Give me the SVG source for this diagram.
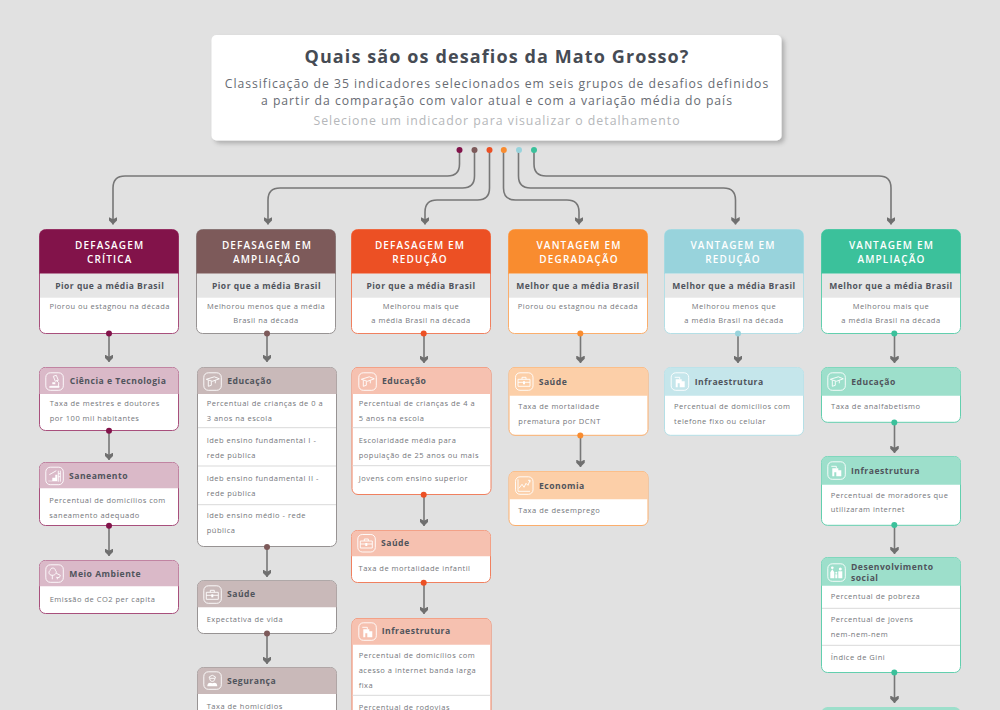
<svg xmlns="http://www.w3.org/2000/svg" width="1000" height="710" viewBox="0 0 1000 710">
<style>
text{font-family:"Open Sans","Noto Sans","Liberation Sans",sans-serif}
.bg{fill:#e1e1e1}
.card{fill:#fff;stroke-width:1}
.title{font-size:18px;font-weight:700;fill:#464b54;letter-spacing:1.11px;text-anchor:middle}
.sub{font-size:12.2px;fill:#686c73;letter-spacing:.98px;text-anchor:middle}
.hint{font-size:12.3px;fill:#b5b7ba;letter-spacing:1px;text-anchor:middle}
.mh{font-size:10px;font-weight:600;fill:#fff;letter-spacing:1.15px;text-anchor:middle}
.band{fill:#e6e6e6}
.bt{font-size:8.5px;font-weight:700;fill:#50545c;letter-spacing:.5px;text-anchor:middle}
.d{font-size:7.5px;fill:#74767b;letter-spacing:.5px;text-anchor:middle}
.sh{font-size:8.6px;font-weight:700;fill:#50545c;letter-spacing:.5px}
.t{font-size:7.5px;fill:#74767b;letter-spacing:.5px}
.sep{stroke:#d9d9d9;stroke-width:1;fill:none}
.line{fill:none;stroke:#777;stroke-width:1.6;marker-end:url(#arrow)}
.ic{fill:none;stroke:#fff;stroke-width:.9}
.if{fill:#fff;stroke:none}
.c1 .card{stroke:#a84f7c}.c1 .h{fill:#82134a}.c1 .s{fill:#dab9c8}
.c2 .card{stroke:#979393}.c2 .h{fill:#7d5a5a}.c2 .s{fill:#c9b9b9}
.c3 .card{stroke:#f0805f}.c3 .h{fill:#ec5024}.c3 .s{fill:#f6c1b0}
.c4 .card{stroke:#fbae6c}.c4 .h{fill:#f98c2f}.c4 .s{fill:#fccfa8}
.c5 .card{stroke:#b4dfe6}.c5 .h{fill:#98d3dc}.c5 .s{fill:#c5e6eb}
.c6 .card{stroke:#62cfae}.c6 .h{fill:#3bc19b}.c6 .s{fill:#9ddfcb}
</style>
<defs>
<filter id="shadow" x="-5%" y="-10%" width="110%" height="125%"><feDropShadow dx="3" dy="3" stdDeviation="2" flood-color="#000" flood-opacity=".22"/></filter>
<marker id="arrow" viewBox="0 0 8 8" markerUnits="userSpaceOnUse" markerWidth="8.5" markerHeight="8.5" refX="7" refY="4" orient="auto"><path d="M0,0L3,0L7,4L3,8L0,8L2,4Z" fill="#6f6f6f"/></marker>
<g id="frame"><rect x=".5" y=".5" width="17.5" height="17.5" rx="4.5" class="ic"/></g>
<g id="i-cap"><use href="#frame"/><path class="ic" d="M3,7L11,4.5L16,6.5L9,9ZM5,8V14L8,13V9M12,8V11"/></g>
<g id="i-micro"><use href="#frame"/><path class="ic" d="M8,4L11,3L13,8L10,9ZM11,8Q15,10 13,14M5,14H14"/><path class="if" d="M4,14H14V15.5H4ZM7,10H10V12H7Z"/></g>
<g id="i-stairs"><use href="#frame"/><path class="if" d="M3,14H7V11H10V8H12V14.5H3Z"/><path class="ic" d="M13,4V15M15,4V15M13,7H15M13,10H15M4,8L11,4"/></g>
<g id="i-tree"><use href="#frame"/><path class="ic" d="M7,11C3,11 3,7 5,6C5,3 10,3 10,6C12,7 11,11 7,11ZM7,11V15M11,9L15,11C15,13 13,14 11,13M12,13V15"/></g>
<g id="i-brief"><use href="#frame"/><path class="ic" d="M3,7H15V14H3ZM7,7V5H11V7M3,10H15"/><path class="if" d="M8,9H10V12H8Z"/></g>
<g id="i-police"><use href="#frame"/><path class="ic" d="M6,5.5L9,4L12,5.5V7H6ZM6.5,7.5C6.5,11 11.5,11 11.5,7.5"/><path class="if" d="M4,15C4,11 7,11 9,12C11,11 14,11 14,15Z"/></g>
<g id="i-build"><use href="#frame"/><path class="if" d="M5,7H11V15H9V11H7V15H5ZM11,9H14V15H11Z"/><path class="ic" d="M4,5H9V7"/></g>
<g id="i-chart"><use href="#frame"/><path class="ic" d="M3,3V15H15M4,12L7,8L9,11L11,7L13,9L15,4M13,4H15V6"/></g>
<g id="i-family"><use href="#frame"/><path class="if" d="M3,9L5,6L7,9V15H3ZM8,11H10V15H8ZM11,8H15V15H11Z"/><circle class="if" cx="5" cy="4.5" r="1.3"/><circle class="if" cx="13" cy="5.8" r="1.5"/><circle class="if" cx="9" cy="9.5" r="1"/></g>
</defs>
<rect class="bg" width="1000" height="710"/>

<g id="cabecalho">
<rect x="211.5" y="35" width="570" height="105.5" rx="5" fill="#fff" filter="url(#shadow)"/>
<text x="497" y="62.5" class="title">Quais são os desafios da Mato Grosso?</text>
<text x="497" y="88.3" class="sub">Classificação de 35 indicadores selecionados em seis grupos de desafios definidos</text>
<text x="497" y="105" class="sub">a partir da comparação com valor atual e com a variação média do país</text>
<text x="497" y="125" class="hint">Selecione um indicador para visualizar o detalhamento</text>
</g>

<g id="conectores">
<path class="line" d="M459.5,150V164Q459.5,176 447.5,176H125Q113,176 113,188V224.5"/>
<path class="line" d="M474.5,150V176Q474.5,188 462.5,188H280Q268,188 268,200V224.5"/>
<path class="line" d="M489.5,150V188Q489.5,200 477.5,200H437Q425,200 425,212V224.5"/>
<path class="line" d="M503.5,150V188Q503.5,200 515.5,200H567Q579,200 579,212V224.5"/>
<path class="line" d="M518.5,150V176Q518.5,188 530.5,188H723.5Q735.5,188 735.5,200V224.5"/>
<path class="line" d="M534,150V164Q534,176 546,176H879Q891,176 891,188V224.5"/>
<path class="line" d="M109,334V362"/><path class="line" d="M109,431V460"/><path class="line" d="M109,526V556"/>
<path class="line" d="M267,334V362"/><path class="line" d="M267,547V577"/><path class="line" d="M267,634V664"/>
<path class="line" d="M424,334V363"/><path class="line" d="M424,495V526"/><path class="line" d="M424,583V614"/>
<path class="line" d="M580.5,334V363"/><path class="line" d="M580.5,436V467"/>
<path class="line" d="M738,334V363"/>
<path class="line" d="M894.5,334V363"/><path class="line" d="M894.5,423V453"/><path class="line" d="M894.5,525V554"/><path class="line" d="M894.5,672.5V703"/>
</g>

<g class="c1">
<g id="n1"><rect class="card" x="39.5" y="229.5" width="139" height="104" rx="6"/><path class="h" d="M39.5,273.7V235.5a6,6 0 0 1 6,-6H172.5a6,6 0 0 1 6,6V273.7Z"/><rect class="band" x="40" y="273.7" width="138" height="24"/>
<text x="109.7" y="248.5" class="mh">DEFASAGEM</text><text x="109.7" y="263" class="mh">CRÍTICA</text><text x="109.7" y="289" class="bt">Pior que a média Brasil</text><text x="109.7" y="308.5" class="d">Piorou ou estagnou na década</text></g>
<g id="n1a"><rect class="card" x="39.5" y="367.5" width="139" height="63" rx="6"/><path class="s" d="M39.5,394V373.5a6,6 0 0 1 6,-6H172.5a6,6 0 0 1 6,6V394Z"/><use href="#i-micro" x="45.3" y="372.3"/><text x="69.7" y="384.3" class="sh">Ciência e Tecnologia</text><text x="49.7" y="406" class="t">Taxa de mestres e doutores</text><text x="49.7" y="420.7" class="t">por 100 mil habitantes</text></g>
<g id="n1b"><rect class="card" x="39.5" y="462.5" width="139" height="63" rx="6"/><path class="s" d="M39.5,488.3V468.5a6,6 0 0 1 6,-6H172.5a6,6 0 0 1 6,6V488.3Z"/><use href="#i-stairs" x="45.3" y="466.7"/><text x="69" y="478.7" class="sh">Saneamento</text><text x="49.3" y="503.3" class="t">Percentual de domicílios com</text><text x="49.3" y="518" class="t">saneamento adequado</text></g>
<g id="n1c"><rect class="card" x="39.5" y="560.5" width="139" height="53" rx="6"/><path class="s" d="M39.5,586.3V566.5a6,6 0 0 1 6,-6H172.5a6,6 0 0 1 6,6V586.3Z"/><use href="#i-tree" x="45.3" y="564.3"/><text x="69.3" y="576.7" class="sh">Meio Ambiente</text><text x="49.7" y="601.7" class="t">Emissão de CO2 per capita</text></g>
</g>

<g class="c2">
<g id="n2"><rect class="card" x="196.5" y="229.5" width="139" height="104" rx="6"/><path class="h" d="M196.5,273.7V235.5a6,6 0 0 1 6,-6H329.5a6,6 0 0 1 6,6V273.7Z"/><rect class="band" x="197" y="273.7" width="138" height="24"/>
<text x="267" y="248.5" class="mh">DEFASAGEM EM</text><text x="267" y="263" class="mh">AMPLIAÇÃO</text><text x="266.5" y="289" class="bt">Pior que a média Brasil</text><text x="266" y="308.5" class="d">Melhorou menos que  a média</text><text x="266" y="323" class="d">Brasil na década</text></g>
<g id="n2a"><rect class="card" x="197.5" y="367.5" width="139" height="179" rx="6"/><path class="s" d="M197.5,394V373.5a6,6 0 0 1 6,-6H330.5a6,6 0 0 1 6,6V394Z"/><use href="#i-cap" x="203.3" y="372.3"/><text x="227.3" y="383.7" class="sh">Educação</text>
<text x="206.7" y="406" class="t">Percentual de crianças de 0 a</text><text x="206.7" y="420.7" class="t">3 anos na escola</text><path class="sep" d="M198,427.7H336"/>
<text x="206.7" y="443.3" class="t">Ideb ensino fundamental I -</text><text x="206.7" y="458" class="t">rede pública</text><path class="sep" d="M198,466H336"/>
<text x="206.7" y="481" class="t">Ideb ensino fundamental II -</text><text x="206.7" y="495.5" class="t">rede pública</text><path class="sep" d="M198,504.7H336"/>
<text x="206.7" y="518.3" class="t">Ideb ensino médio - rede</text><text x="206.7" y="533" class="t">pública</text></g>
<g id="n2b"><rect class="card" x="197.5" y="580.7" width="139" height="52.8" rx="6"/><path class="s" d="M197.5,607.3V586.7a6,6 0 0 1 6,-6H330.5a6,6 0 0 1 6,6V607.3Z"/><use href="#i-brief" x="203.3" y="585.3"/><text x="227" y="596.7" class="sh">Saúde</text><text x="206.7" y="622" class="t">Expectativa de vida</text></g>
<g id="n2c"><rect class="card" x="197.5" y="667.5" width="139" height="60" rx="6"/><path class="s" d="M197.5,694V673.5a6,6 0 0 1 6,-6H330.5a6,6 0 0 1 6,6V694Z"/><use href="#i-police" x="203.3" y="671.3"/><text x="227" y="684" class="sh">Segurança</text><text x="206.7" y="708.7" class="t">Taxa de homicídios</text></g>
</g>

<g class="c3">
<g id="n3"><rect class="card" x="351.5" y="229.5" width="139" height="104" rx="6"/><path class="h" d="M351.5,273.7V235.5a6,6 0 0 1 6,-6H484.5a6,6 0 0 1 6,6V273.7Z"/><rect class="band" x="352" y="273.7" width="138" height="24"/>
<text x="420" y="248.5" class="mh">DEFASAGEM EM</text><text x="420" y="263" class="mh">REDUÇÃO</text><text x="421" y="289" class="bt">Pior que a média Brasil</text><text x="421" y="308.5" class="d">Melhorou mais que</text><text x="421" y="323" class="d">a média Brasil na década</text></g>
<g id="n3a"><rect class="card" x="352" y="367.5" width="139" height="127" rx="6"/><path class="s" d="M352,394V373.5a6,6 0 0 1 6,-6H485a6,6 0 0 1 6,6V394Z"/><use href="#i-cap" x="358.3" y="372.3"/><text x="382" y="384.3" class="sh">Educação</text>
<text x="358.7" y="406" class="t">Percentual de crianças de 4 a</text><text x="358.7" y="420.7" class="t">5 anos na escola</text><path class="sep" d="M352.5,427.7H490.5"/>
<text x="358.7" y="443.3" class="t">Escolaridade média para</text><text x="358.7" y="458" class="t">população de 25 anos ou mais</text><path class="sep" d="M352.5,465.7H490.5"/>
<text x="358.7" y="480.7" class="t">Jovens com ensino superior</text></g>
<g id="n3b"><rect class="card" x="351.5" y="530.5" width="139" height="52" rx="6"/><path class="s" d="M351.5,556.3V536.5a6,6 0 0 1 6,-6H484.5a6,6 0 0 1 6,6V556.3Z"/><use href="#i-brief" x="357.3" y="534"/><text x="381" y="546" class="sh">Saúde</text><text x="358.5" y="571.3" class="t">Taxa de mortalidade infantil</text></g>
<g id="n3c"><rect class="card" x="352" y="618.5" width="139" height="110" rx="6"/><path class="s" d="M352,644.7V624.5a6,6 0 0 1 6,-6H485a6,6 0 0 1 6,6V644.7Z"/><use href="#i-build" x="358.3" y="622.3"/><text x="381.7" y="634.3" class="sh">Infraestrutura</text>
<text x="358.7" y="658.3" class="t">Percentual de domicílios com</text><text x="358.7" y="673" class="t">acesso a internet banda larga</text><text x="358.7" y="687.7" class="t">fixa</text><path class="sep" d="M352.5,695.3H490.5"/><text x="358.7" y="709.7" class="t">Percentual de rodovias</text></g>
</g>

<g class="c4">
<g id="n4"><rect class="card" x="508.5" y="229.5" width="139" height="104" rx="6"/><path class="h" d="M508.5,273.7V235.5a6,6 0 0 1 6,-6H641.5a6,6 0 0 1 6,6V273.7Z"/><rect class="band" x="509" y="273.7" width="138" height="24"/>
<text x="579" y="248.5" class="mh">VANTAGEM EM</text><text x="579" y="263" class="mh">DEGRADAÇÃO</text><text x="578" y="289" class="bt">Melhor que a média Brasil</text><text x="578" y="308.5" class="d">Piorou ou estagnou na década</text></g>
<g id="n4a"><rect class="card" x="509" y="367.5" width="139" height="67.8" rx="6"/><path class="s" d="M509,395.7V373.5a6,6 0 0 1 6,-6H642a6,6 0 0 1 6,6V395.7Z"/><use href="#i-brief" x="515" y="372.3"/><text x="538.7" y="385.3" class="sh">Saúde</text><text x="518.3" y="409" class="t">Taxa de mortalidade</text><text x="518.3" y="423.7" class="t">prematura por DCNT</text></g>
<g id="n4b"><rect class="card" x="509" y="471.5" width="139" height="54" rx="6"/><path class="s" d="M509,499.3V477.5a6,6 0 0 1 6,-6H642a6,6 0 0 1 6,6V499.3Z"/><use href="#i-chart" x="515" y="476.3"/><text x="539" y="489.3" class="sh">Economia</text><text x="518.3" y="512.7" class="t">Taxa de desemprego</text></g>
</g>

<g class="c5">
<g id="n5"><rect class="card" x="664.5" y="229.5" width="139" height="104" rx="6"/><path class="h" d="M664.5,273.7V235.5a6,6 0 0 1 6,-6H797.5a6,6 0 0 1 6,6V273.7Z"/><rect class="band" x="665" y="273.7" width="138" height="24"/>
<text x="733" y="248.5" class="mh">VANTAGEM EM</text><text x="733" y="263" class="mh">REDUÇÃO</text><text x="734" y="289" class="bt">Melhor que a média Brasil</text><text x="734" y="308.5" class="d">Melhorou menos que</text><text x="734" y="323" class="d">a média Brasil na década</text></g>
<g id="n5a"><rect class="card" x="664.5" y="367.5" width="139" height="67.8" rx="6"/><path class="s" d="M664.5,395.7V373.5a6,6 0 0 1 6,-6H797.5a6,6 0 0 1 6,6V395.7Z"/><use href="#i-build" x="670.7" y="372.3"/><text x="694.7" y="385.3" class="sh">Infraestrutura</text><text x="674" y="409" class="t">Percentual de domicílios com</text><text x="674" y="423.7" class="t">telefone fixo ou celular</text></g>
</g>

<g class="c6">
<g id="n6"><rect class="card" x="821.5" y="229.5" width="139" height="104" rx="6"/><path class="h" d="M821.5,273.7V235.5a6,6 0 0 1 6,-6H954.5a6,6 0 0 1 6,6V273.7Z"/><rect class="band" x="822" y="273.7" width="138" height="24"/>
<text x="891.5" y="248.5" class="mh">VANTAGEM EM</text><text x="891.5" y="263" class="mh">AMPLIAÇÃO</text><text x="891" y="289" class="bt">Melhor que a média Brasil</text><text x="891" y="308.5" class="d">Melhorou mais que</text><text x="891" y="323" class="d">a média Brasil na década</text></g>
<g id="n6a"><rect class="card" x="821.5" y="367.5" width="139" height="54.8" rx="6"/><path class="s" d="M821.5,395.7V373.5a6,6 0 0 1 6,-6H954.5a6,6 0 0 1 6,6V395.7Z"/><use href="#i-cap" x="827.3" y="372.3"/><text x="851.3" y="385.3" class="sh">Educação</text><text x="831" y="409" class="t">Taxa de analfabetismo</text></g>
<g id="n6b"><rect class="card" x="821.5" y="456.5" width="139" height="68.8" rx="6"/><path class="s" d="M821.5,484.7V462.5a6,6 0 0 1 6,-6H954.5a6,6 0 0 1 6,6V484.7Z"/><use href="#i-build" x="827.3" y="461.3"/><text x="851" y="474.3" class="sh">Infraestrutura</text><text x="830.7" y="498" class="t">Percentual de moradores que</text><text x="830.7" y="512.3" class="t">utilizaram internet</text></g>
<g id="n6c"><rect class="card" x="821.5" y="557.5" width="139" height="115" rx="6"/><path class="s" d="M821.5,585.7V563.5a6,6 0 0 1 6,-6H954.5a6,6 0 0 1 6,6V585.7Z"/><use href="#i-family" x="827.3" y="563.3"/><text x="851" y="570.3" class="sh">Desenvolvimento</text><text x="851" y="581" class="sh">social</text><text x="830.7" y="599.3" class="t">Percentual de pobreza</text><path class="sep" d="M822,608.3H960"/><text x="830.7" y="622" class="t">Percentual de jovens</text><text x="830.7" y="636.7" class="t">nem-nem-nem</text><path class="sep" d="M822,645.3H960"/><text x="830.7" y="659.7" class="t">Índice de Gini</text></g>
<g id="n6d"><path class="s" d="M821.5,712V713a6,6 0 0 1 6,-6H954.5a6,6 0 0 1 6,6V712Z"/></g>
</g>

<g id="pontos">
<circle cx="459.5" cy="150" r="3" fill="#82134a"/><circle cx="474.5" cy="150" r="3" fill="#7d5a5a"/><circle cx="489.5" cy="150" r="3" fill="#ec5024"/><circle cx="503.8" cy="150" r="3" fill="#f98c2f"/><circle cx="519" cy="150" r="3" fill="#98d3dc"/><circle cx="534" cy="150" r="3" fill="#3bc19b"/>
<g fill="#82134a"><circle cx="109" cy="333.5" r="3"/><circle cx="109" cy="430.7" r="3"/><circle cx="109" cy="525.7" r="3"/></g>
<g fill="#7d5a5a"><circle cx="267" cy="333.5" r="3"/><circle cx="267" cy="547" r="3"/><circle cx="267" cy="633.5" r="3"/></g>
<g fill="#ec5024"><circle cx="423.7" cy="333.5" r="3"/><circle cx="423.7" cy="494.7" r="3"/><circle cx="423.7" cy="582.7" r="3"/></g>
<g fill="#f98c2f"><circle cx="580.3" cy="333.5" r="3"/><circle cx="580.3" cy="435.5" r="3"/></g>
<circle cx="738" cy="333.5" r="3" fill="#98d3dc"/>
<g fill="#3bc19b"><circle cx="894.3" cy="333.5" r="3"/><circle cx="894.3" cy="422.5" r="3"/><circle cx="894.3" cy="525" r="3"/><circle cx="894.3" cy="672.5" r="3"/></g>
</g>
</svg>
